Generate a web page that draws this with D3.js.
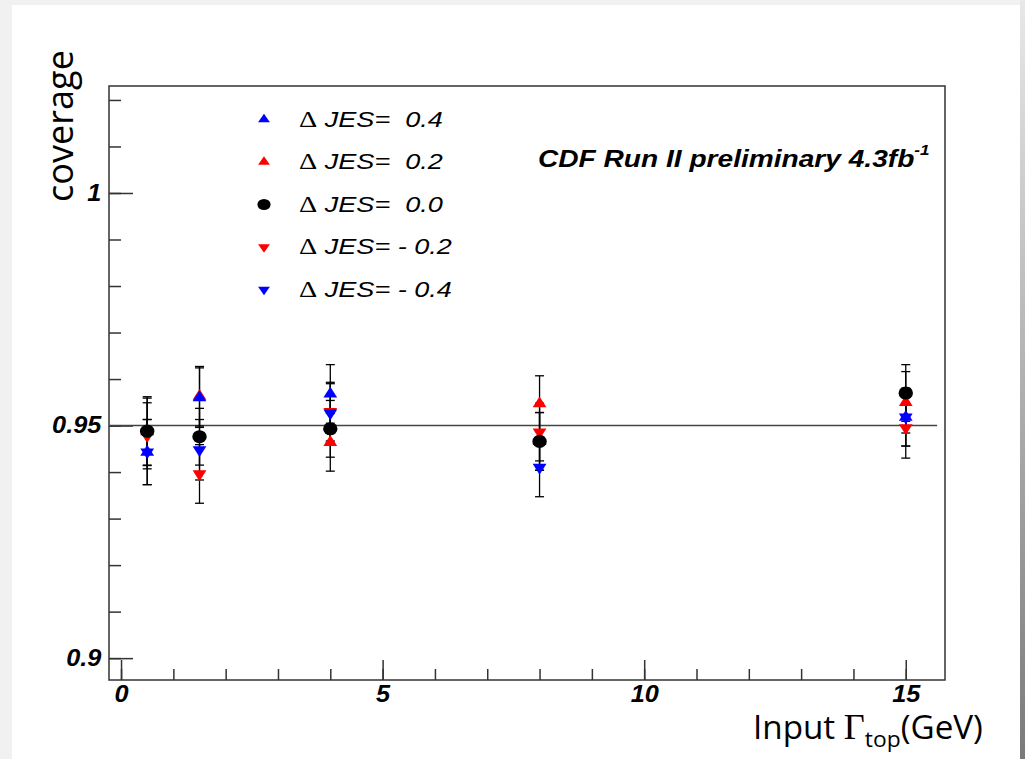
<!DOCTYPE html>
<html>
<head>
<meta charset="utf-8">
<script src="https://cdn.jsdelivr.net/npm/d3@7"></script>
<style>
  body { margin: 0; background: #fff; }
  svg { display: block; }
  .tick text { font-family: "Liberation Sans", Arial, sans-serif; font-weight: bold; font-style: italic; font-size: 23px; fill: #000; }
  .tick line { stroke: #333; stroke-width: 1.5; }
</style>
</head>
<body>
<svg id="chart" width="1025" height="759"></svg>
<script>
'use strict';

// Data
var inputWidths = [0.5, 1.5, 4, 8, 15];
var jesP04 = [0.9443, 0.9560, 0.9568, 0.9466, 0.9518];
var jesP02 = [0.9487, 0.9563, 0.9464, 0.9547, 0.9550];
var jes00 = [0.9488, 0.9476, 0.9493, 0.9466, 0.9570];
var jesM02 = [0.9478, 0.9396, 0.9530, 0.9486, 0.9495];
var jesM04 = [0.9443, 0.9448, 0.9527, 0.9410, 0.9518];
var errP04 = [0.0070, 0.0064, 0.0063, 0.0062, 0.0062];
var errP02 = [0.0072, 0.0064, 0.0062, 0.0060, 0.0066];
var err00 = [0.0074, 0.0061, 0.0061, 0.0062, 0.0061];
var errM02 = [0.0071, 0.0063, 0.0063, 0.0062, 0.0065];
var errM04 = [0.0070, 0.0065, 0.0063, 0.0063, 0.0062];

var legendLabels = ['0.4', '0.2', '0.0', '- 0.2', '- 0.4'];
var xMajorTicks = [0, 5, 10, 15];
var xMinorTicks = [0, 1, 2, 3, 4, 5, 6, 7, 8, 9, 10, 11, 12, 13, 14, 15];
var yMajorTicks = [0.9, 0.95, 1];
var yMinorTicks = [0.9, 0.91, 0.92, 0.93, 0.94, 0.95, 0.96, 0.97, 0.98, 0.99, 1, 1.01, 1.02];
var coverageTarget = 0.95;

var svg = d3.select('#chart');

// slide-like backdrop
var defs = svg.append('defs');
var grad = defs.append('linearGradient').attr('id', 'rightShade').attr('x1', 0).attr('y1', 0).attr('x2', 0).attr('y2', 1);
grad.append('stop').attr('offset', '0%').attr('stop-color', '#e8e8e8');
grad.append('stop').attr('offset', '100%').attr('stop-color', '#7a7a7a');
svg.append('rect').attr('width', 1025).attr('height', 759).attr('fill', '#f1f1f1');
svg.append('rect').attr('x', 1020).attr('y', 0).attr('width', 5).attr('height', 759).attr('fill', 'url(#rightShade)');
svg.append('rect').attr('x', 12).attr('y', 5).attr('width', 1008).attr('height', 754).attr('fill', '#fff');

//Scales
var xScale = d3.scaleLinear().domain([-0.23, 15.75]).range([109, 945]);
var yScale = d3.scaleLinear().domain([0.8953, 1.023]).range([680, 86]);

var plot = svg.append('g');

//Frame
plot.append('rect')
  .attr('x', xScale.range()[0]).attr('y', yScale.range()[1])
  .attr('width', xScale.range()[1] - xScale.range()[0])
  .attr('height', yScale.range()[0] - yScale.range()[1])
  .attr('fill', 'none').attr('stroke', '#333').attr('stroke-width', 1.5);

//X axis minor + major
plot.append('g').attr('transform', 'translate(0,' + yScale.range()[0] + ')')
  .call(d3.axisBottom(xScale).tickValues(xMinorTicks).tickSize(-11).tickFormat(''))
  .call(function (g) { g.select('.domain').remove(); });
var xAxis = plot.append('g').attr('transform', 'translate(0,' + yScale.range()[0] + ')')
  .call(d3.axisBottom(xScale).tickValues(xMajorTicks).tickSize(-20).tickPadding(6).tickFormat(d3.format('d')));
xAxis.select('.domain').remove();
xAxis.selectAll('text').attr('transform', 'scale(1.1,1)');

//Y axis minor + major
plot.append('g').attr('transform', 'translate(' + xScale.range()[0] + ',0)')
  .call(d3.axisLeft(yScale).tickValues(yMinorTicks).tickSize(-12).tickFormat(''))
  .call(function (g) { g.select('.domain').remove(); });
var yAxis = plot.append('g').attr('transform', 'translate(' + xScale.range()[0] + ',0)')
  .call(d3.axisLeft(yScale).tickValues(yMajorTicks).tickSize(-24).tickPadding(7).tickFormat(d3.format('~g')));
yAxis.select('.domain').remove();
yAxis.selectAll('text').attr('transform', 'scale(1.1,1)');

//Target coverage line
plot.append('line')
  .attr('x1', xScale.range()[0]).attr('x2', xScale(15.6))
  .attr('y1', yScale(coverageTarget)).attr('y2', yScale(coverageTarget))
  .attr('stroke', '#444').attr('stroke-width', 1.5);

var series = [
  { values: jesP02, errors: errP02, color: '#ff0000', shape: 'up' },
  { values: jesM02, errors: errM02, color: '#ff0000', shape: 'down' },
  { values: jesP04, errors: errP04, color: '#0000ff', shape: 'up' },
  { values: jesM04, errors: errM04, color: '#0000ff', shape: 'down' },
  { values: jes00, errors: err00, color: '#000000', shape: 'circle' }
];

function symbolFor(shape, big) {
  if (shape === 'circle') return d3.symbol().type(d3.symbolCircle).size(big ? 135 : 95)();
  return d3.symbol().type(d3.symbolTriangle).size(big ? 68 : 42)();
}
function shapeTransform(shape) {
  return shape === 'down' ? ' rotate(180)' : '';
}

//Error bars first
series.forEach(function (s) {
  var pts = inputWidths.map(function (w, i) { return { x: w, y: s.values[i], e: s.errors[i] }; });
  var eb = plot.append('g').selectAll('g').data(pts).enter().append('g')
    .attr('stroke', '#000').attr('stroke-width', 1.3);
  eb.append('line')
    .attr('x1', function (d) { return xScale(d.x); }).attr('x2', function (d) { return xScale(d.x); })
    .attr('y1', function (d) { return yScale(d.y + d.e); }).attr('y2', function (d) { return yScale(d.y - d.e); });
  eb.append('line')
    .attr('x1', function (d) { return xScale(d.x) - 4.5; }).attr('x2', function (d) { return xScale(d.x) + 4.5; })
    .attr('y1', function (d) { return yScale(d.y + d.e); }).attr('y2', function (d) { return yScale(d.y + d.e); });
  eb.append('line')
    .attr('x1', function (d) { return xScale(d.x) - 4.5; }).attr('x2', function (d) { return xScale(d.x) + 4.5; })
    .attr('y1', function (d) { return yScale(d.y - d.e); }).attr('y2', function (d) { return yScale(d.y - d.e); });
});

//Markers
series.forEach(function (s) {
  plot.append('g').selectAll('path').data(s.values).enter().append('path')
    .attr('d', symbolFor(s.shape, true))
    .attr('fill', s.color)
    .attr('transform', function (d, i) {
      return 'translate(' + xScale(inputWidths[i]) + ',' + yScale(d) + ') scale(1.1,1)' + shapeTransform(s.shape);
    });
});

function fitWidth(g, x, y, target, extra) {
  var w = g.node().getBBox().width;
  g.attr('transform', 'translate(' + x + ',' + y + ')' + (extra || '') + ' scale(' + (target / w) + ',1)');
  return target / w;
}

//Legend
var legendSeries = [
  { color: '#0000ff', shape: 'up' },
  { color: '#ff0000', shape: 'up' },
  { color: '#000000', shape: 'circle' },
  { color: '#ff0000', shape: 'down' },
  { color: '#0000ff', shape: 'down' }
];
var legendScale = 1;
legendLabels.forEach(function (lab, i) {
  var cy = 119.5 + 42.5 * i;
  plot.append('path')
    .attr('d', symbolFor(legendSeries[i].shape, false))
    .attr('fill', legendSeries[i].color)
    .attr('transform', 'translate(264,' + cy + ') scale(1.2,1)' + shapeTransform(legendSeries[i].shape));
  var g = plot.append('g');
  var t = g.append('text').attr('x', 0).attr('y', 0).style('white-space', 'pre');
  t.append('tspan').attr('font-family', '"Liberation Serif", serif').attr('font-size', 23).text('\u0394');
  t.append('tspan').attr('font-family', '"Liberation Sans", Arial, sans-serif').attr('font-style', 'italic').attr('font-size', 22)
    .text(' JES=' + (lab.charAt(0) === '-' ? ' ' : '  ') + lab);
  if (i === 0) {
    legendScale = fitWidth(g, 299, cy + 7, 144);
  } else {
    g.attr('transform', 'translate(299,' + (cy + 7) + ') scale(' + legendScale + ',1)');
  }
});

//CDF label
var cdf = plot.append('g');
var ct = cdf.append('text').attr('font-family', '"Liberation Sans", Arial, sans-serif')
  .attr('font-weight', 'bold').attr('font-style', 'italic').attr('font-size', 23);
ct.append('tspan').text('CDF Run II preliminary 4.3fb');
ct.append('tspan').attr('font-size', 14).attr('dy', -12).text('-1');
fitWidth(cdf, 538, 167, 392);

//Y title
var yt = svg.append('g');
yt.append('text').attr('font-family', '"Open Sans", sans-serif').attr('font-size', 36).text('coverage');
fitWidth(yt, 73, 202, 152, ' rotate(-90)');

//X title
var xt = svg.append('g');
var xtt = xt.append('text').attr('font-family', '"Open Sans", sans-serif').attr('font-size', 32).style('white-space', 'pre');
xtt.append('tspan').text('Input ');
xtt.append('tspan').attr('font-family', '"Liberation Serif", serif').attr('font-size', 35).text('\u0393');
xtt.append('tspan').attr('font-size', 22).attr('dy', 8).text('top');
xtt.append('tspan').attr('dy', -8).text('(GeV)');
fitWidth(xt, 753, 739, 230);
</script>
</body>
</html>
